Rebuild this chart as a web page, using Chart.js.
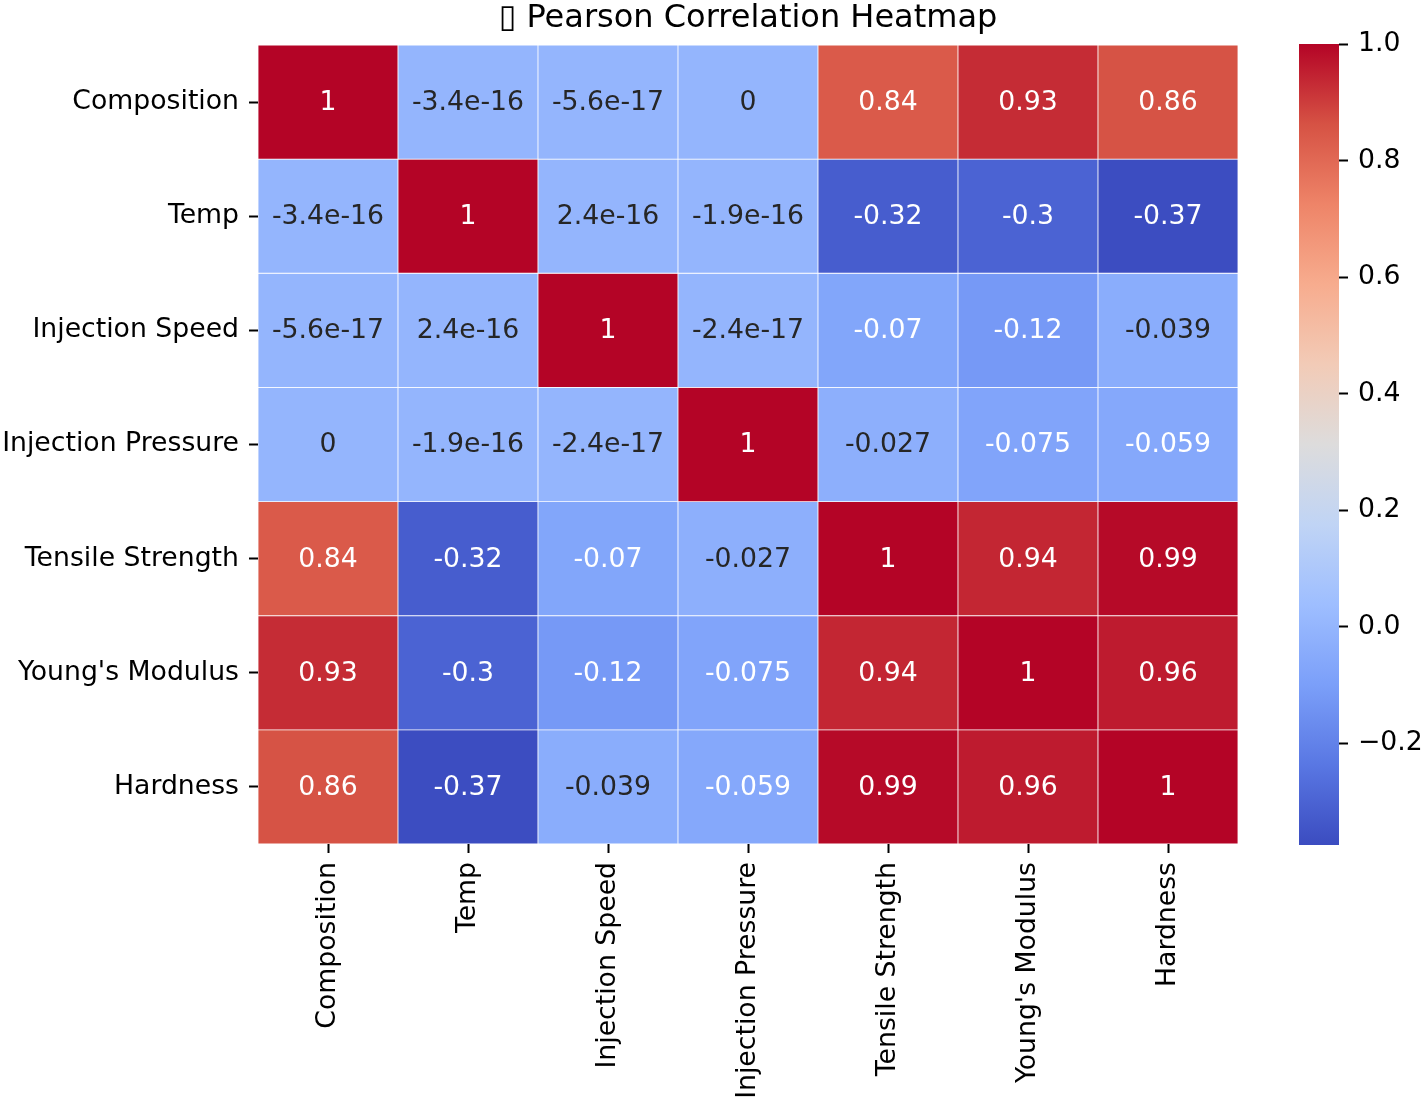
<!DOCTYPE html>
<html>
<head>
<meta charset="utf-8">
<script src="https://cdn.jsdelivr.net/npm/chart.js@4.4.1/dist/chart.umd.min.js"></script>
<style>
    html, body { margin: 0; padding: 0; background: #fff; }
    #wrap { position: relative; width: 1424px; height: 1102px; }
    #heat-box { position: absolute; left: 0; top: 0; width: 1424px; height: 1102px; }
    #bar-box { position: absolute; left: 1290px; top: 0; width: 134px; height: 1102px; }
</style>
</head>
<body>
<div id="wrap">
    <div id="heat-box"><canvas id="heatmap"></canvas></div>
    <div id="bar-box"><canvas id="colorbar"></canvas></div>
</div>
<script>
// Feature names (same order on both axes)
const features = ['Composition', 'Temp', 'Injection Speed', 'Injection Pressure',
                  'Tensile Strength', "Young's Modulus", 'Hardness'];

// Correlation rows
const rowComposition = [1, -3.4e-16, -5.6e-17, 0, 0.84, 0.93, 0.86];
const rowTemp        = [-3.4e-16, 1, 2.4e-16, -1.9e-16, -0.32, -0.3, -0.37];
const rowSpeed       = [-5.6e-17, 2.4e-16, 1, -2.4e-17, -0.07, -0.12, -0.039];
const rowPressure    = [0, -1.9e-16, -2.4e-17, 1, -0.027, -0.075, -0.059];
const rowTensile     = [0.84, -0.32, -0.07, -0.027, 1, 0.94, 0.99];
const rowYoungs      = [0.93, -0.3, -0.12, -0.075, 0.94, 1, 0.96];
const rowHardness    = [0.86, -0.37, -0.039, -0.059, 0.99, 0.96, 1];
const rows = [rowComposition, rowTemp, rowSpeed, rowPressure, rowTensile, rowYoungs, rowHardness];

// Colour scale range and colorbar ticks
const VMIN = -0.374;
const VMAX = 1.0;
const colorbarTicks = [-0.2, 0, 0.2, 0.4, 0.6, 0.8, 1.0];

// coolwarm colormap samples (0 .. 1 in steps of 0.1)
const COOLWARM = ['#3b4cc0', '#5977e3', '#7b9ff9', '#9ebeff', '#c0d4f5', '#dddcdc',
                  '#f2cbb7', '#f7ac8e', '#ee8468', '#d65244', '#b40426'];

const FONT_PX = 26.7;

Chart.defaults.font.family = "'DejaVu Sans', sans-serif";
Chart.defaults.font.size = FONT_PX;
Chart.defaults.color = '#000';

function hexToRgb(h) {
    return [parseInt(h.slice(1, 3), 16), parseInt(h.slice(3, 5), 16), parseInt(h.slice(5, 7), 16)];
}

function coolwarmRgb(v) {
    let t = (v - VMIN) / (VMAX - VMIN);
    t = Math.max(0, Math.min(1, t));
    const pos = t * (COOLWARM.length - 1);
    const i = Math.min(Math.floor(pos), COOLWARM.length - 2);
    const f = pos - i;
    const a = hexToRgb(COOLWARM[i]);
    const b = hexToRgb(COOLWARM[i + 1]);
    return a.map((c, k) => c + (b[k] - c) * f);
}

function rgbCss(rgb) {
    return 'rgb(' + rgb.map(c => Math.round(c)).join(',') + ')';
}

// Same rule seaborn uses for annotation colour
function textColorFor(rgb) {
    const lin = rgb.map(c => {
        c = c / 255;
        return c <= 0.03928 ? c / 12.92 : Math.pow((c + 0.055) / 1.055, 2.4);
    });
    const lum = 0.2126 * lin[0] + 0.7152 * lin[1] + 0.0722 * lin[2];
    return lum > 0.408 ? '#262626' : '#ffffff';
}

// Format like python's '.2g'
function fmt2g(v) {
    if (v === 0) return '0';
    let s = v.toPrecision(2);
    if (s.indexOf('e') >= 0) {
        let [m, e] = s.split('e');
        if (m.indexOf('.') >= 0) m = m.replace(/0+$/, '').replace(/\.$/, '');
        let sign = e[0] === '-' ? '-' : '+';
        let digits = e.replace(/^[+-]/, '');
        if (digits.length < 2) digits = '0' + digits;
        return m + 'e' + sign + digits;
    }
    if (s.indexOf('.') >= 0) s = s.replace(/0+$/, '').replace(/\.$/, '');
    return s;
}

// Draw the number in each cell
const cellLabels = {
    id: 'cellLabels',
    afterDatasetsDraw(chart) {
        const ctx = chart.ctx;
        ctx.save();
        ctx.font = FONT_PX + "px 'DejaVu Sans'";
        ctx.textAlign = 'center';
        ctx.textBaseline = 'middle';
        chart.data.datasets.forEach((ds, r) => {
            const meta = chart.getDatasetMeta(r);
            meta.data.forEach((el, c) => {
                const v = rows[r][c];
                const p = el.getCenterPoint();
                ctx.fillStyle = textColorFor(coolwarmRgb(v));
                ctx.fillText(fmt2g(v), p.x, p.y + 1);
            });
        });
        ctx.restore();
    }
};

// Title centred over the heatmap
const heatTitle = {
    id: 'heatTitle',
    afterDraw(chart) {
        const ctx = chart.ctx;
        const area = chart.chartArea;
        ctx.save();
        ctx.font = "32px 'DejaVu Sans'";
        ctx.fillStyle = '#000';
        ctx.textAlign = 'center';
        ctx.textBaseline = 'middle';
        ctx.fillText('\u25AF Pearson Correlation Heatmap', (area.left + area.right) / 2, 19);
        ctx.restore();
    }
};

const tickGrid = {
    drawOnChartArea: false,
    drawTicks: true,
    tickLength: 9,
    tickColor: '#000',
    tickWidth: 2
};

new Chart(document.getElementById('heatmap'), {
    type: 'bar',
    data: {
        labels: features,
        datasets: rows.map((row, r) => ({
            label: features[r],
            data: row.map(() => [r, r + 1]),
            backgroundColor: row.map(v => rgbCss(coolwarmRgb(v))),
            borderColor: '#ffffff',
            borderWidth: 0.75,
            borderSkipped: false,
            grouped: false,
            barPercentage: 1,
            categoryPercentage: 1
        }))
    },
    options: {
        responsive: true,
        maintainAspectRatio: false,
        animation: false,
        layout: { padding: { left: 0, right: 186, top: 45, bottom: 0 } },
        plugins: {
            legend: { display: false },
            tooltip: { enabled: false },
            title: { display: false }
        },
        scales: {
            x: {
                type: 'category',
                grid: Object.assign({ offset: false }, tickGrid),
                border: { display: false },
                ticks: { minRotation: 90, maxRotation: 90, padding: 9, autoSkip: false },
                afterFit: scale => { scale.height = 258; }
            },
            y: {
                type: 'linear',
                min: 0,
                max: features.length,
                reverse: true,
                grid: tickGrid,
                border: { display: false },
                ticks: {
                    padding: 10,
                    autoSkip: false,
                    callback: (value, index) => features[index]
                },
                afterBuildTicks: scale => {
                    scale.ticks = features.map((_, i) => ({ value: i + 0.5 }));
                },
                afterFit: scale => { scale.width = 258; }
            }
        }
    },
    plugins: [cellLabels, heatTitle]
});

new Chart(document.getElementById('colorbar'), {
    type: 'bar',
    data: {
        labels: ['scale'],
        datasets: [{
            data: [[VMIN, VMAX]],
            backgroundColor: ctx => {
                const chart = ctx.chart;
                if (!chart.chartArea) return COOLWARM[5];
                const y = chart.scales.y;
                const g = chart.ctx.createLinearGradient(0, y.getPixelForValue(VMIN), 0, y.getPixelForValue(VMAX));
                COOLWARM.forEach((c, i) => g.addColorStop(i / (COOLWARM.length - 1), c));
                return g;
            },
            borderWidth: 0,
            barPercentage: 1,
            categoryPercentage: 1
        }]
    },
    options: {
        responsive: true,
        maintainAspectRatio: false,
        animation: false,
        layout: { padding: { left: 9, right: 0, top: 44, bottom: 257 } },
        plugins: {
            legend: { display: false },
            tooltip: { enabled: false }
        },
        scales: {
            x: { display: false },
            y: {
                type: 'linear',
                position: 'right',
                min: VMIN,
                max: VMAX,
                grid: tickGrid,
                border: { display: false },
                ticks: {
                    padding: 10,
                    callback: value => value.toFixed(1).replace('-', '\u2212')
                },
                afterBuildTicks: scale => {
                    scale.ticks = colorbarTicks.map(v => ({ value: v }));
                },
                afterFit: scale => { scale.width = 85; }
            }
        }
    }
});
</script>
</body>
</html>
